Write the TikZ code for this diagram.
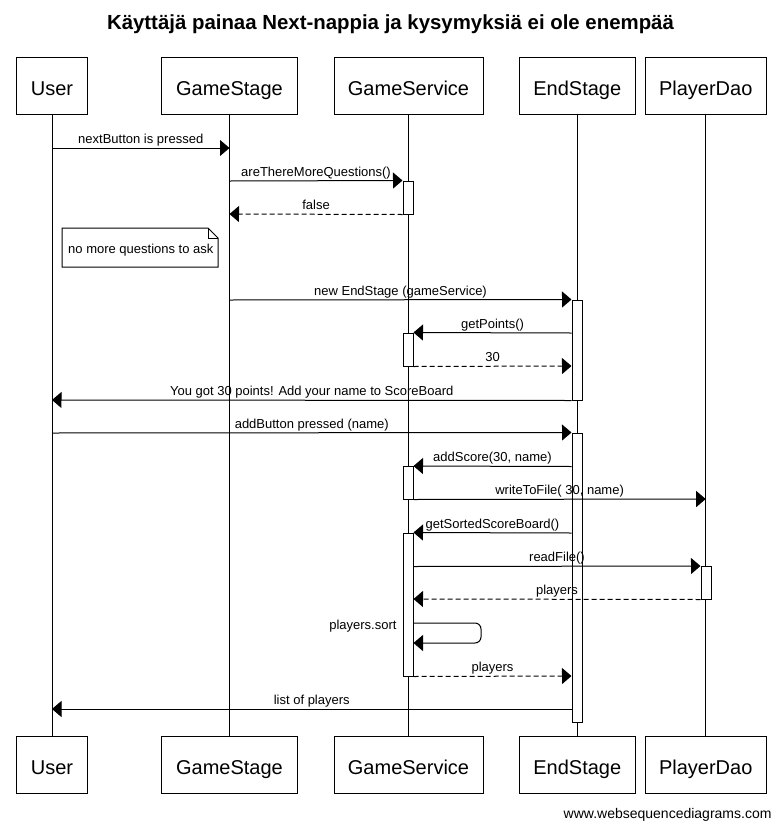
\documentclass[tikz,border=0pt]{standalone}
\usepackage{fontspec}
\setmainfont{Liberation Sans}
\usetikzlibrary{arrows.meta}
\begin{document}
\begin{tikzpicture}[x=1pt,y=-1pt,line width=1pt,
  part/.style={draw,fill=white,minimum height=57pt,inner sep=0pt,text height=19pt,text depth=0.4pt,font=\fontsize{20}{24}\selectfont},
  act/.style={draw,fill=white,minimum width=10pt,inner sep=0pt},
  msg/.style={-{Triangle[length=9.5pt,width=16pt]}},
  ret/.style={msg,dash pattern=on 5pt off 3pt},
  lbl/.style={font=\fontsize{13}{15}\selectfont,inner sep=0pt,anchor=base,yshift=4.5pt},
  txt/.style={font=\fontsize{13}{15}\selectfont,inner sep=0pt}
]
\useasboundingbox[fill=white] (0,0) rectangle (781,828);

% title
\node[font=\bfseries\fontsize{20.4}{24}\selectfont,anchor=base,inner sep=0pt] (title) at (390.5,29) {Käyttäjä painaa Next-nappia ja kysymyksiä ei ole enempää};

% participants
\node[part,minimum width=71pt] (ut) at (52,85.7) {User};
\node[part,minimum width=136pt] (gt) at (229.5,85.7) {GameStage};
\node[part,minimum width=149pt] (st) at (408.5,85.7) {GameService};
\node[part,minimum width=116pt] (et) at (577.3,85.7) {EndStage};
\node[part,minimum width=120.7pt] (pt) at (705.7,85.7) {PlayerDao};
\node[part,minimum width=71pt] (ub) at (52,764.7) {User};
\node[part,minimum width=136pt] (gb) at (229.5,764.7) {GameStage};
\node[part,minimum width=149pt] (sb) at (408.5,764.7) {GameService};
\node[part,minimum width=116pt] (eb) at (577.3,764.7) {EndStage};
\node[part,minimum width=120.7pt] (pb) at (705.7,764.7) {PlayerDao};

% lifelines
\draw (ut.south) -- (ub.north);
\draw (gt.south) -- (gb.north);
\draw (st.south) -- (sb.north);
\draw (et.south) -- (eb.north);
\draw (pt.south) -- (pb.north);

% activations
\node[act,minimum height=33pt] (a1) at (408,197.5) {};
\node[act,minimum height=100pt] (e1) at (577,350) {};
\node[act,minimum height=33pt] (a2) at (408,349.5) {};
\node[act,minimum height=289.5pt] (e2) at (577,577.75) {};
\node[act,minimum height=32.5pt] (a3) at (408,482.75) {};
\node[act,minimum height=143pt] (a4) at (408,604.5) {};
\node[act,minimum height=32.5pt] (p1) at (706,582.75) {};

% note
\node[txt,anchor=base west] (note) at (67.7,253) {no more questions to ask};
\draw (62,228) -- (208,228) -- (218,238) -- (218,267) -- (62,267) -- cycle;
\draw (208,228) -- (208,238) -- (218,238);

% messages
\draw[msg] (ut |- 0,148) -- node[lbl]{nextButton is pressed} (gt |- 0,148);
\draw[msg] (gt |- 0,181) -- node[lbl]{areThereMoreQuestions()} (a1.north west);
\draw[ret] (a1.south west) -- node[lbl]{false} (gt |- 0,214);
\draw[msg] (gt |- 0,300) -- node[lbl]{new EndStage (gameService)} (e1.north west);
\draw[msg] (e1.west |- 0,333) -- node[lbl]{getPoints()} (a2.north east);
\draw[ret] (a2.south east) -- node[lbl]{30} (e1.west |- 0,366);
\draw[msg] (e1.south west) -- node[lbl]{You got 30 points! Add your name to ScoreBoard} (ut |- 0,400);
\draw[msg] (ut |- 0,433) -- node[lbl]{addButton pressed (name)} (e2.north west);
\draw[msg] (e2.west |- 0,466.5) -- node[lbl]{addScore(30, name)} (a3.north east);
\draw[msg] (a3.south east) -- node[lbl]{writeToFile( 30, name)} (pt |- 0,499);
\draw[msg] (e2.west |- 0,533) -- node[lbl]{getSortedScoreBoard()} (a4.north east);
\draw[msg] (a4.east |- 0,566.5) -- node[lbl]{readFile()} (p1.north west);
\draw[ret] (p1.south west) -- node[lbl]{players} (a4.east |- 0,599);
\draw[msg,rounded corners=6pt] (a4.east |- 0,623) -- (481,623) -- (481,643) -- (a4.east |- 0,643);
\node[txt,anchor=base east] (sortlbl) at (397,629) {players.sort};
\draw[ret] (a4.south east) -- node[lbl]{players} (e2.west |- 0,676);
\draw[msg] (e2.west |- 0,709) -- node[lbl]{list of players} (ut |- 0,709);

% footer
\node[font=\fontsize{14}{16}\selectfont,anchor=base east,inner sep=0pt] (footer) at (772,818) {www.websequencediagrams.com};
\end{tikzpicture}
\end{document}
